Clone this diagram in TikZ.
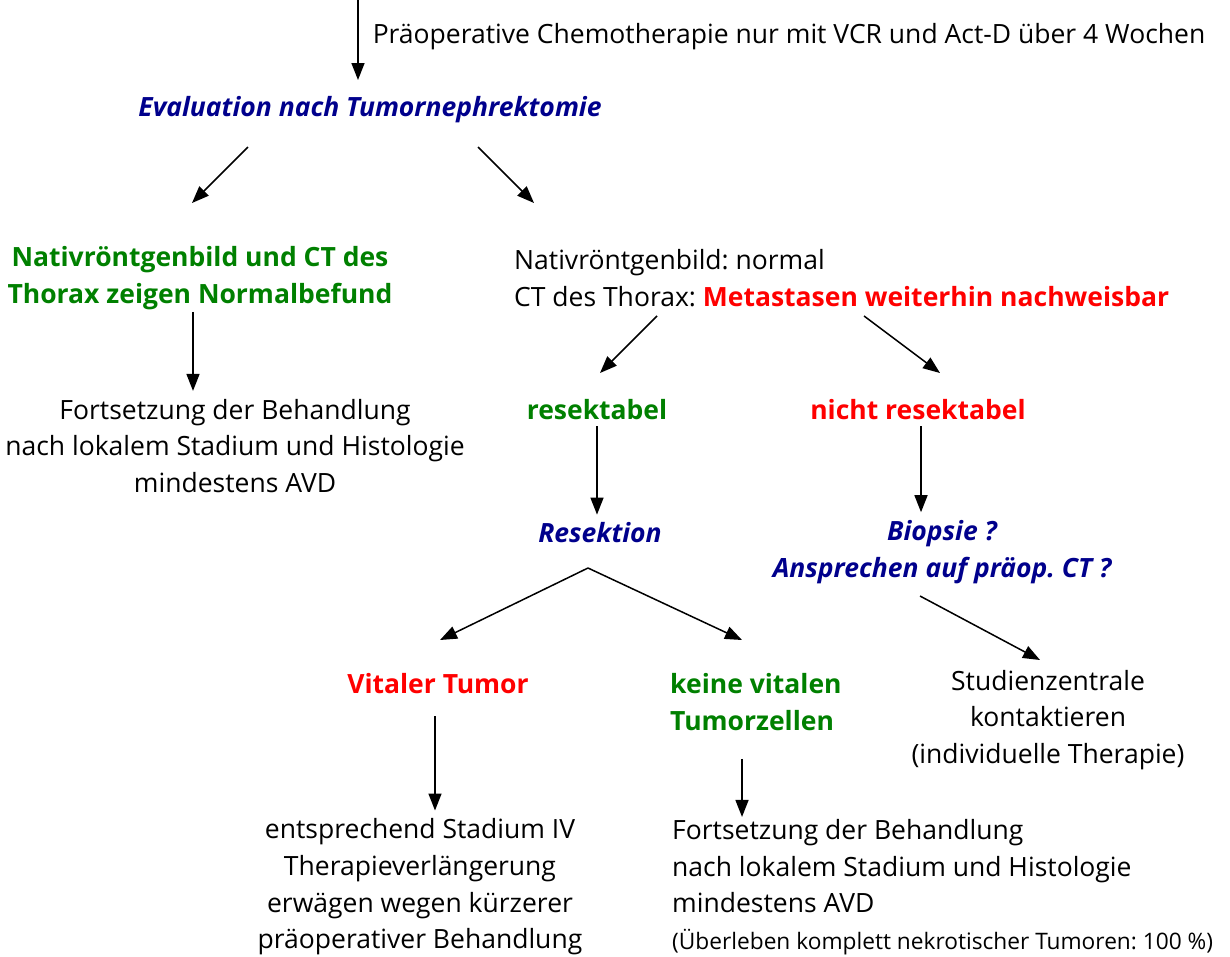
\documentclass[tikz,border=0pt]{standalone}
\usepackage{fontspec}
\setmainfont{Open Sans}
\frenchspacing
\usetikzlibrary{arrows.meta}

\definecolor{evalblue}{RGB}{0,0,140}
\definecolor{okgreen}{RGB}{0,128,0}
\definecolor{badred}{RGB}{255,0,0}

\newcommand{\flowfont}{\fontsize{26.5}{36.7}\selectfont}

\tikzset{
  arr/.style={-{Triangle[length=17pt,width=13pt]}, line width=1.5pt},
  plain/.style={inner sep=2pt, align=center, font=\flowfont},
  phase/.style={plain, text=evalblue, font=\flowfont\bfseries\itshape},
  good/.style={plain, text=okgreen, font=\flowfont\bfseries},
  bad/.style={plain, text=badred, font=\flowfont\bfseries},
}

\begin{document}
\begin{tikzpicture}[x=1pt, y=-1pt]
  \useasboundingbox (0,0) rectangle (1230,956);

  % nodes
  \node[phase] (eval) at (370,110) {Evaluation nach Tumornephrektomie};
  \node[good] (normal) at (200,278) {Nativröntgenbild und CT des\\Thorax zeigen Normalbefund};
  \node[plain] (fort1) at (235,446) {Fortsetzung der Behandlung\\nach lokalem Stadium und Histologie\\mindestens AVD};
  \node[plain, align=left, anchor=west] (meta) at (512,278)
    {Nativröntgenbild: normal\\CT des Thorax: \textcolor{badred}{\bfseries Metastasen weiterhin nachweisbar}};
  \node[good] (resek) at (597,410) {resektabel};
  \node[bad] (nres) at (918,410) {nicht resektabel};
  \node[phase] (resekt) at (600,533) {Resektion};
  \node[phase] (biop) at (942,552) {Biopsie ?\\Ansprechen auf präop. CT ?};
  \node[bad] (vital) at (438,684) {Vitaler Tumor};
  \node[good, align=left, anchor=west] (keine) at (668,702) {keine vitalen\\Tumorzellen};
  \node[plain] (studien) at (1048,720) {Studienzentrale\\kontaktieren\\(individuelle Therapie)};
  \node[plain] (stadium) at (420,887) {entsprechend Stadium IV\\Therapieverlängerung\\erwägen wegen kürzerer\\präoperativer Behandlung};
  \node[plain, align=left, anchor=west] (fort2) at (670,887) {Fortsetzung der Behandlung\\nach lokalem Stadium und Histologie\\mindestens AVD\\{\fontsize{22.7}{36.7}\selectfont(Überleben komplett nekrotischer Tumoren: 100 \%)}};

  % arrow ends
  \coordinate (start) at (358,0);
  \coordinate (evalL) at (248,147);
  \coordinate (evalR) at (478,147);
  \coordinate (normalIn) at (192,203);
  \coordinate (metaIn) at (534,203);
  \coordinate (metaL) at (657,316);
  \coordinate (metaR) at (864,316);
  \coordinate (resekIn) at (600,373);
  \coordinate (nresIn) at (940,373);
  \coordinate (split) at (588,568);
  \coordinate (vitalIn) at (440,640);
  \coordinate (keineIn) at (742,640);
  \coordinate (biopOut) at (920,596);
  \coordinate (studienIn) at (1040,660);
  \coordinate (keineDown) at (742,0);

  % connectors
  \draw[arr] (start) -- (start |- 0,80)
    node[pos=0.46, right=12pt, plain, anchor=west] {Präoperative Chemotherapie nur mit VCR und Act-D über 4 Wochen};
  \draw[arr] (evalL) -- (normalIn);
  \draw[arr] (evalR) -- (metaIn);
  \draw[arr, shorten >=6pt] ([xshift=-7pt]normal.south) -- ([xshift=-7pt]normal.south |- fort1.north);
  \draw[arr] (metaL) -- (resekIn);
  \draw[arr] (metaR) -- (nresIn);
  \draw[arr, shorten <=4pt, shorten >=6pt] (resek.south) -- (resek.south |- resekt.north);
  \draw[arr, shorten <=4pt, shorten >=6pt] ([xshift=3pt]nres.south) -- ([xshift=3pt]nres.south |- biop.north);
  \draw[arr] (split) -- (vitalIn);
  \draw[arr] (split) -- (keineIn);
  \draw[arr] (biopOut) -- (studienIn);
  \draw[arr, shorten <=20pt, shorten >=6pt] ([xshift=-3pt]vital.south) -- ([xshift=-3pt]vital.south |- stadium.north);
  \draw[arr, shorten <=26pt] (keine.south -| keineDown) -- (keineDown |- fort2.north);
\end{tikzpicture}
\end{document}
